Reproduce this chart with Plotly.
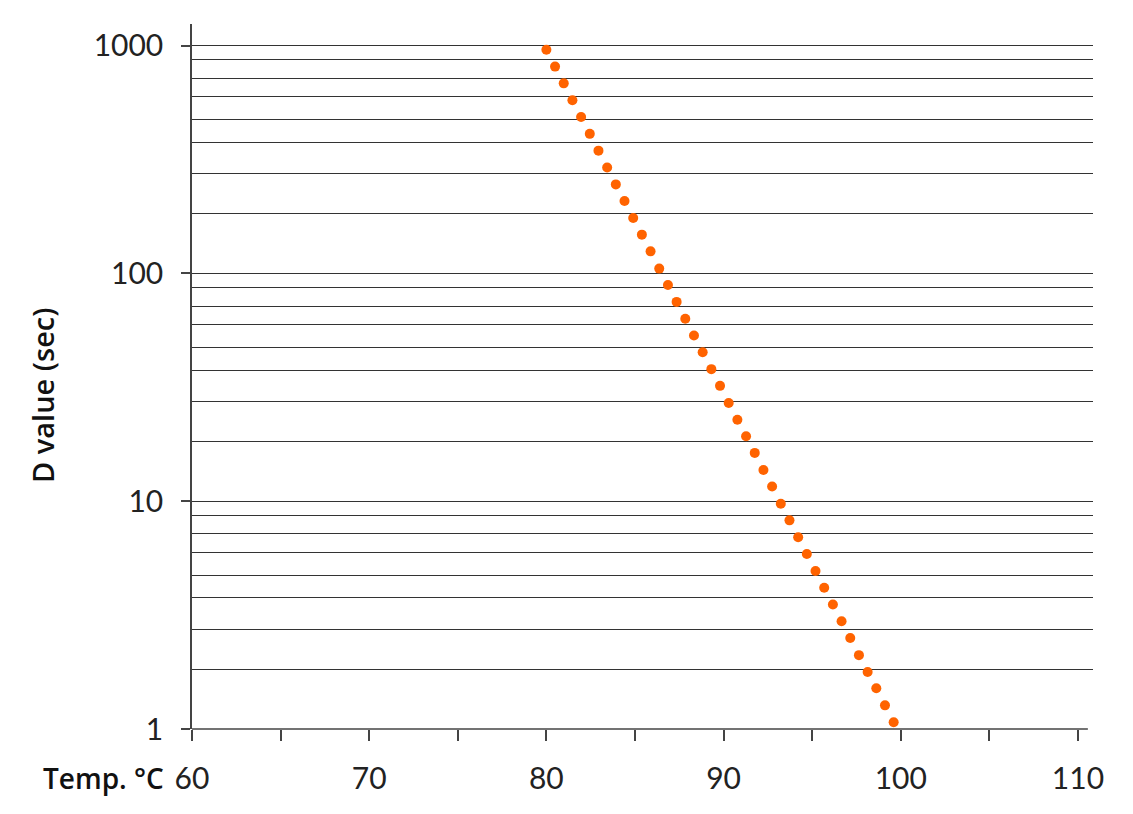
import plotly.graph_objects as go

# Data
temps = [80.00, 80.49, 80.98, 81.47, 81.96, 82.45, 82.94, 83.43, 83.92, 84.41,
         84.90, 85.39, 85.88, 86.37, 86.86, 87.35, 87.84, 88.33, 88.82, 89.31,
         89.80, 90.29, 90.78, 91.27, 91.76, 92.25, 92.74, 93.23, 93.72, 94.21,
         94.70, 95.19, 95.68, 96.17, 96.66, 97.15, 97.64, 98.13, 98.62, 99.11,
         99.60]
d_values = [959, 809, 683, 576, 486, 410, 346, 292, 246, 208,
            175, 148, 125, 105, 88.9, 75.0, 63.2, 53.4, 45.1, 38.0,
            32.1, 27.0, 22.8, 19.3, 16.3, 13.7, 11.6, 9.75, 8.24, 6.95,
            5.86, 4.94, 4.17, 3.52, 2.97, 2.51, 2.11, 1.78, 1.51, 1.27,
            1.07]

x_tick_vals = [60, 70, 80, 90, 100, 110]
x_tick_text = ["60", "70", "80", "90", "100", "110"]
y_tick_vals = [1, 10, 100, 1000]
y_tick_text = ["1", "10", "100", "1000"]
grid_vals = [1.83, 2.74, 3.76, 4.73, 5.97, 7.18, 8.65,
             18.3, 27.4, 37.6, 47.3, 59.7, 71.8, 86.5,
             183, 274, 376, 473, 597, 718, 865]

# page body has an 8px margin; compensate so the plot area lands where the reference has it
OFF = 8
W, H = 1133 - OFF, 814 - OFF
L, R, T, B = 192 - OFF, 40, 24 - OFF, 85
plot_w = W - L - R
plot_h = H - T - B
PL, PT = L + OFF, T + OFF  # plot area origin in page pixels

axis_col = "#444444"
grid_col = "#333333"
text_col = "#222222"
num_font = dict(family="Lato", size=30, color=text_col)
lab_font_family = "Open Sans"

fig = go.Figure()
fig.add_trace(go.Scatter(
    x=temps, y=d_values, mode="markers",
    marker=dict(color="#FF6300", size=10, line=dict(width=0)),
    showlegend=False, hoverinfo="x+y",
))

fig.update_layout(
    width=W, height=H,
    margin=dict(l=L, r=R, t=T, b=B, autoexpand=False),
    paper_bgcolor="white", plot_bgcolor="white",
    xaxis=dict(
        range=[60, 110.85],
        tickmode="array", tickvals=x_tick_vals, ticktext=x_tick_text,
        ticks="outside", ticklen=11, tickwidth=1.5, tickcolor=axis_col,
        minor=dict(dtick=5, tick0=60, ticks="outside", ticklen=11,
                   tickwidth=1.5, tickcolor=axis_col, showgrid=False),
        showgrid=False, zeroline=False, showline=False,
        tickfont=num_font, ticklabelstandoff=12,
    ),
    yaxis=dict(
        type="log", range=[0, 3.095],
        tickmode="array", tickvals=y_tick_vals, ticktext=y_tick_text,
        ticks="outside", ticklen=9, tickwidth=1.5, tickcolor=axis_col,
        showgrid=True, gridcolor=grid_col, gridwidth=1.3,
        minor=dict(tickmode="array", tickvals=grid_vals, ticks="",
                   showgrid=True, gridcolor=grid_col, gridwidth=1.3),
        zeroline=False, showline=True, linecolor=axis_col, linewidth=1.5,
        tickfont=num_font, ticklabelstandoff=12,
    ),
)

# x axis baseline (slightly shorter than the grid lines)
fig.add_shape(type="line", xref="x", yref="y domain",
              x0=60, x1=110.56, y0=0, y1=0,
              line=dict(color=axis_col, width=1.5), layer="above")

fig.add_annotation(
    text="Temp. °C", xref="paper", yref="paper",
    x=(166 - PL) / plot_w, y=(PT + plot_h - 778) / plot_h,
    xanchor="right", yanchor="middle", showarrow=False,
    font=dict(family=lab_font_family, size=28, color="#111111", weight=600),
)
fig.add_annotation(
    text="D value (sec)", xref="paper", yref="paper",
    x=(42 - PL) / plot_w, y=(PT + plot_h - 396) / plot_h,
    xanchor="center", yanchor="middle", textangle=-90, showarrow=False,
    font=dict(family=lab_font_family, size=29, color="#111111", weight=600),
)

fig.write_html("out.html")
